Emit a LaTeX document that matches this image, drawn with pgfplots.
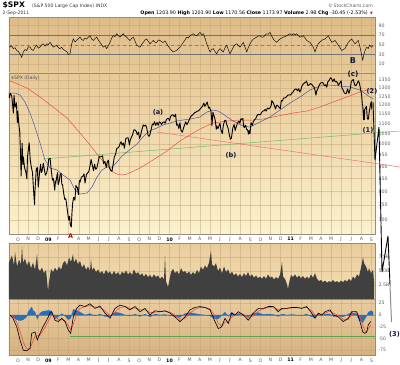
\documentclass[border=0pt]{standalone}
\usepackage{pgfplots}
\pgfplotsset{compat=1.18}
\usepackage{fontspec}
\setmainfont{DejaVu Sans}
\definecolor{gridc}{RGB}{196,166,122}
\definecolor{framec}{RGB}{150,140,125}
\definecolor{tickc}{RGB}{95,95,95}
\definecolor{maBlue}{RGB}{80,80,165}
\definecolor{maRed}{RGB}{240,75,65}
\definecolor{trGreen}{RGB}{110,190,100}
\definecolor{trPink}{RGB}{240,115,115}
\definecolor{volc}{RGB}{64,64,64}
\definecolor{histc}{RGB}{40,110,185}
\definecolor{lblc}{RGB}{15,25,55}
\definecolor{rsiT}{RGB}{222,188,138}
\definecolor{rsiB}{RGB}{231,201,152}
\definecolor{mainT}{RGB}{232,201,152}
\definecolor{mainB}{RGB}{251,242,206}
\definecolor{volT}{RGB}{233,204,156}
\definecolor{volB}{RGB}{243,224,180}
\definecolor{macdT}{RGB}{233,205,160}
\definecolor{macdB}{RGB}{214,177,128}
\tikzset{lbl/.style={font=\fontsize{6.6}{7}\selectfont\bfseries, text=lblc, inner sep=0pt}}
\pgfplotsset{
  panel/.style={scale only axis, width=366pt,
    axis line style={framec, line width=0.4pt},
    major tick length=0pt, tick style={draw=none},
    xmajorgrids, ymajorgrids,
    major grid style={gridc, line width=0.25pt, draw opacity=0.5},
    yticklabel pos=right,
    ticklabel style={font=\fontsize{4.7}{5}\selectfont, text=tickc},
    /pgf/number format/assume math mode=true},
  pxaxis/.style={xmin=9, xmax=375, xtick={18,28.1,...,372}},
  ovl/.style={scale only axis, width=366pt, height=161pt, at={(9pt,-73pt)}, anchor=north west, hide axis, clip=false},
  monthlabels/.style={xticklabels={O,N,D,\textcolor{black}{\textbf{09}},F,M,A,M,J,J,A,S,O,N,D,\textcolor{black}{\textbf{10}},F,M,A,M,J,J,A,S,O,N,D,\textcolor{black}{\textbf{11}},F,M,A,M,J,J,A,S}},
  monthlabelsA/.style={xticklabels={O,N,D,\textcolor{black}{\textbf{09}},F,{},A,M,J,J,A,S,O,N,D,\textcolor{black}{\textbf{10}},F,M,A,M,J,J,A,S,O,N,D,\textcolor{black}{\textbf{11}},F,M,A,M,J,J,A,S}}
}
\begin{document}
\begin{tikzpicture}
\path[use as bounding box] (0pt,0pt) rectangle (400pt,-365pt);
% header
\node[anchor=base west, inner sep=0pt, font=\fontsize{7.6}{8}\selectfont\bfseries] at (2.5pt,-7.6pt) {\$SPX};
\node[anchor=base west, inner sep=0pt, font=\fontsize{4.6}{5}\selectfont, text=black!80] at (32pt,-7.4pt) {(S\&P 500 Large Cap Index) INDX};
\node[anchor=base east, inner sep=0pt, font=\fontsize{4.6}{5}\selectfont, text=black!65] at (373pt,-7.4pt) {\textcopyright\,StockCharts.com};
\node[anchor=base west, inner sep=0pt, font=\fontsize{4.6}{5}\selectfont, text=black!80] at (2.5pt,-14.6pt) {2-Sep-2011};
\node[anchor=base east, inner sep=0pt, font=\fontsize{4.8}{5}\selectfont] at (368pt,-14.6pt) {\textbf{Open} 1203.90 \textbf{High} 1203.90 \textbf{Low} 1170.56 \textbf{Close} 1173.97 \textbf{Volume} 2.9B \textbf{Chg} -30.45 (-2.53\%)};
\node[anchor=base west, inner sep=0pt, font=\fontsize{3.5}{4}\selectfont, text=red!85!black] at (370pt,-14.4pt) {▼};

% RSI panel
\begin{axis}[panel, pxaxis, at={(9pt,-17pt)}, anchor=north west, height=56pt,
  ymin=-9, ymax=108, ytick={10,30,50,70,90}, yticklabels={10,30,50,70,90}, xticklabels={},
  axis background/.style={top color=rsiT, bottom color=rsiB}]
\addplot[black!55, line width=0.5pt] coordinates {(9,70)(375,70)};
\addplot[black!55, line width=0.5pt] coordinates {(9,30)(375,30)};
\addplot[black!50, dashed, line width=0.4pt] coordinates {(9,50)(375,50)};
\addplot[black, line width=0.45pt] coordinates {(9,46)(10,45)(11.7,48)(13.3,42)(15,44)(16.7,38)(18.3,36)(20,31)(21.7,24)(23.3,35)(25,40)(26.7,38)(28.3,46)(30,45)(31.7,40)(33.3,38)(35,45)(36.7,49)(38.3,43)(40,45)(41.7,50)(43.3,52)(45,47)(46.7,52)(48.3,50)(50,55)(51.7,50)(53.3,45)(55,47)(56.7,49)(58.3,44)(60,42)(61.7,45)(63.3,40)(65,38)(66.7,36)(68.3,30)(70,31)(71.7,52)(73.3,62)(75,56)(76.7,59)(78.3,63)(80,66)(81.7,61)(83.3,59)(85,64)(86.7,62)(88.3,66)(90,69)(91.7,62)(93.3,59)(95,63)(96.7,66)(98.3,60)(100,55)(101.7,50)(103.3,45)(105,48)(106.7,42)(108.3,48)(110,55)(111.7,64)(113.3,69)(115,67)(116.7,73)(118.3,69)(120,66)(121.7,70)(123.3,73)(125,68)(126.7,66)(128.3,62)(130,59)(131.7,63)(133.3,66)(135,58)(136.7,49)(138.3,47)(140,45)(141.7,51)(143.3,55)(145,60)(146.7,62)(148.3,57)(150,52)(151.7,56)(153.3,59)(155,55)(156.7,55)(158.3,60)(160,59)(161.7,56)(163.3,55)(165,58)(166.7,52)(168.3,47)(170,42)(171.7,38)(173.3,35)(175,37)(176.7,38)(178.3,42)(180,45)(181.7,50)(183.3,55)(185,60)(186.7,66)(188.3,64)(190,69)(191.7,71)(193.3,73)(195,70)(196.7,69)(198.3,72)(200,76)(201.7,71)(203.3,73)(205,64)(206.7,52)(208.3,44)(210,35)(211.7,40)(213.3,42)(215,36)(216.7,31)(218.3,38)(220,42)(221.7,38)(223.3,35)(225,44)(226.7,49)(228.3,40)(230,31)(231.7,38)(233.3,45)(235,50)(236.7,52)(238.3,48)(240,45)(241.7,50)(243.3,55)(245,45)(246.7,35)(248.3,44)(250,52)(251.7,58)(253.3,62)(255,64)(256.7,66)(258.3,68)(260,69)(261.7,66)(263.3,66)(265,70)(266.7,73)(268.3,72)(270,76)(271.7,68)(273.3,62)(275,58)(276.7,55)(278.3,59)(280,62)(281.7,64)(283.3,66)(285,67)(286.7,69)(288.3,71)(290,73)(291.7,70)(293.3,73)(295,71)(296.7,73)(298.3,69)(300,66)(301.7,67)(303.3,69)(305,64)(306.7,59)(308.3,57)(310,55)(311.7,50)(313.3,45)(315,35)(316.7,45)(318.3,52)(320,56)(321.7,59)(323.3,61)(325,62)(326.7,66)(328.3,69)(330,62)(331.7,55)(333.3,57)(335,59)(336.7,54)(338.3,49)(340,44)(341.7,38)(343.3,40)(345,42)(346.7,49)(348.3,55)(350,59)(351.7,62)(353.3,57)(355,52)(356.7,56)(358.3,59)(360,45)(361.7,28)(362.7,18)(363.5,26)(365,38)(366.7,45)(368.3,42)(369.3,49)(370.5,47)(371.7,45)(373,49)};
\end{axis}

% main panel background
\begin{axis}[panel, at={(9pt,-73pt)}, anchor=north west, height=161pt,
  xmin=0.1, xmax=36.35, xtick={1,...,36}, monthlabelsA,
  ymode=log, ymin=655, ymax=1395,
  ytick={700,750,800,850,900,950,1000,1050,1100,1150,1200,1250,1300,1350},
  yticklabels={700,750,800,850,900,950,1000,1050,1100,1150,1200,1250,1300,1350},
  axis background/.style={top color=mainT, bottom color=mainB}]
\addplot[draw=none] coordinates {(1,1000)};
\end{axis}
\node[anchor=base west, inner sep=0pt, font=\fontsize{4.6}{5}\selectfont, text=black!70] at (11pt,-79pt) {\$SPX (Daily)};

% moving averages and trend lines (pixel-grid axis)
\begin{axis}[ovl, xmin=9, xmax=375, ymin=73, ymax=234, y dir=reverse]
\addplot[trGreen, line width=0.5pt] coordinates {(43,159)(400,131)};
\addplot[trPink, line width=0.5pt] coordinates {(157,132)(400,167)};
\addplot[maRed, line width=0.5pt] coordinates {(10,81)(13,82)(27,88)(40,97)(53,107)(67,118)(80,133)(90,145)(100,158)(107,165)(113,172)(117,174)(122,175)(127,174)(140,168)(153,160)(167,151)(180,141)(193,133)(200,129)(213,123)(227,121)(240,120)(253,120)(263,119)(273,117)(293,113)(307,111)(320,107)(333,102)(347,97)(360,92)(367,90)(373,89)};
\addplot[maBlue, line width=0.5pt] coordinates {(10,93)(15,93)(20,95)(25,102)(30,113)(35,127)(40,143)(45,160)(50,168)(57,170)(63,175)(70,180)(75,190)(80,194)(87,193)(92,187)(97,177)(102,170)(107,167)(112,167)(117,162)(122,156)(127,152)(132,148)(137,144)(142,138)(147,133)(152,130)(157,128)(163,125)(170,123)(177,121)(183,120)(190,119)(200,117)(207,112)(213,110)(218,111)(223,114)(233,121)(243,126)(250,127)(260,122)(270,117)(280,110)(290,103)(300,97)(310,90)(320,86)(330,85)(340,86)(350,87)(360,90)(367,95)(373,99)};
\end{axis}

% price
\begin{axis}[scale only axis, width=366pt, height=161pt, at={(9pt,-73pt)}, anchor=north west, hide axis,
  xmin=0.1, xmax=36.35, ymode=log, ymin=655, ymax=1395]
\addplot[black, line width=0.9pt, line join=round] coordinates {
(0.03,1277)(0.13,1242)(0.23,1268)(0.37,1252)(0.47,1193)(0.53,1156)(0.60,1255)(0.70,1188)(0.83,1213)(0.93,1106)(0.97,1166)
(1.07,1099)(1.17,1056)(1.27,910)(1.30,860)(1.40,1003)(1.47,908)(1.53,940)(1.63,896)(1.77,876)(1.87,848)(1.93,940)
(2.00,968)(2.10,1005)(2.20,930)(2.30,899)(2.43,873)(2.53,806)(2.63,752)(2.67,800)(2.80,888)(2.90,896)
(3.00,816)(3.13,876)(3.23,909)(3.30,873)(3.37,879)(3.50,913)(3.60,887)(3.70,863)(3.83,872)(3.97,903)
(4.03,931)(4.17,935)(4.27,890)(4.40,843)(4.50,850)(4.63,805)(4.70,840)(4.73,831)(4.90,874)(4.97,826)
(5.07,838)(5.17,868)(5.27,870)(5.33,827)(5.40,827)(5.53,789)(5.63,770)(5.73,773)(5.87,735)
(6.00,700)(6.10,712)(6.17,683)(6.27,677)(6.33,720)(6.40,756)(6.50,778)(6.63,768)(6.73,823)(6.80,816)(6.87,815)(6.97,788)
(7.07,842)(7.13,835)(7.27,856)(7.40,858)(7.53,869)(7.63,832)(7.77,866)(7.90,873)
(8.00,877)(8.13,903)(8.23,929)(8.33,909)(8.47,882)(8.57,908)(8.70,887)(8.80,893)(8.93,919)
(9.03,943)(9.13,940)(9.27,942)(9.37,946)(9.47,911)(9.60,921)(9.73,895)(9.83,918)(9.93,927)
(10.03,896)(10.20,881)(10.30,879)(10.40,905)(10.53,940)(10.67,954)(10.77,979)(10.90,982)
(11.00,987)(11.13,1005)(11.20,1010)(11.30,994)(11.43,1004)(11.53,980)(11.67,1026)(11.77,1028)(11.90,1029)
(12.03,995)(12.10,1016)(12.23,1033)(12.33,1042)(12.47,1068)(12.57,1068)(12.70,1061)(12.80,1044)(12.93,1057)
(13.03,1025)(13.13,1040)(13.27,1071)(13.40,1093)(13.50,1087)(13.63,1092)(13.73,1080)(13.87,1042)(13.97,1036)
(14.07,1046)(14.17,1069)(14.30,1098)(14.40,1093)(14.50,1110)(14.63,1091)(14.77,1106)(14.87,1091)
(15.00,1109)(15.10,1106)(15.20,1095)(15.33,1106)(15.47,1109)(15.57,1102)(15.67,1118)(15.77,1126)(15.90,1127)
(16.00,1115)(16.10,1137)(16.23,1145)(16.33,1147)(16.47,1136)(16.60,1150)(16.70,1092)(16.80,1097)(16.93,1074)
(17.03,1104)(17.13,1066)(17.27,1056)(17.37,1075)(17.50,1094)(17.60,1109)(17.73,1094)(17.83,1105)(17.97,1123)
(18.13,1139)(18.27,1145)(18.37,1150)(18.50,1159)(18.60,1160)(18.73,1166)(18.83,1167)(18.97,1173)
(19.03,1179)(19.17,1187)(19.27,1194)(19.40,1211)(19.50,1192)(19.63,1206)(19.73,1217)(19.87,1183)(19.97,1187)
(20.10,1166)(20.17,1128)(20.20,1090)(20.30,1160)(20.43,1136)(20.53,1116)(20.63,1071)(20.67,1088)(20.80,1074)(20.90,1089)
(21.00,1102)(21.10,1065)(21.23,1050)(21.33,1092)(21.47,1116)(21.57,1117)(21.67,1095)(21.80,1076)(21.93,1041)
(22.03,1022)(22.13,1028)(22.27,1078)(22.40,1095)(22.50,1065)(22.60,1083)(22.73,1102)(22.87,1113)(22.97,1102)
(23.07,1125)(23.17,1122)(23.27,1127)(23.33,1089)(23.40,1079)(23.53,1092)(23.63,1071)(23.73,1067)(23.83,1047)(23.87,1065)(23.97,1049)
(24.07,1105)(24.20,1091)(24.30,1110)(24.43,1121)(24.53,1125)(24.63,1139)(24.77,1149)(24.87,1147)
(25.00,1147)(25.13,1160)(25.23,1166)(25.37,1169)(25.47,1176)(25.57,1166)(25.70,1183)(25.83,1178)(25.93,1183)
(26.07,1197)(26.13,1225)(26.27,1213)(26.37,1199)(26.50,1178)(26.60,1199)(26.70,1198)(26.83,1189)(26.97,1180)
(27.07,1225)(27.17,1223)(27.30,1240)(27.43,1241)(27.53,1244)(27.67,1254)(27.73,1257)(27.87,1259)
(28.00,1258)(28.13,1270)(28.20,1272)(28.33,1286)(28.43,1293)(28.53,1295)(28.67,1283)(28.80,1296)(28.90,1276)
(29.00,1286)(29.10,1310)(29.23,1324)(29.33,1329)(29.47,1336)(29.57,1343)(29.70,1315)(29.86,1320)(29.96,1328)
(30.10,1321)(30.23,1310)(30.33,1304)(30.43,1281)(30.50,1257)(30.57,1279)(30.70,1298)(30.80,1314)(30.93,1328)
(31.00,1332)(31.17,1334)(31.23,1328)(31.37,1314)(31.47,1320)(31.57,1305)(31.67,1337)(31.80,1347)(31.93,1364)
(32.03,1361)(32.17,1340)(32.30,1357)(32.40,1338)(32.53,1340)(32.63,1333)(32.73,1317)(32.87,1331)
(33.00,1345)(33.07,1300)(33.23,1284)(33.30,1271)(33.47,1265)(33.53,1271)(33.63,1295)(33.77,1268)(33.90,1296)
(34.00,1340)(34.20,1353)(34.23,1344)(34.37,1314)(34.47,1316)(34.57,1327)(34.70,1345)(34.80,1331)(34.93,1292)
(35.03,1254)(35.10,1200)(35.13,1199)(35.23,1120)(35.27,1172)(35.30,1121)(35.33,1173)(35.37,1179)(35.50,1193)(35.57,1140)(35.60,1124)(35.70,1123)(35.77,1162)(35.83,1177)(35.93,1210)
(36.00,1219)(36.03,1174)};
\end{axis}

% volume panel
\begin{axis}[panel, pxaxis, at={(9pt,-243pt)}, anchor=north west, height=56pt,
  ymin=0, ymax=10, ytick={2.5,5,7.5}, yticklabels={2.5B,5.0B,7.5B}, xticklabels={},
  axis background/.style={top color=volT, bottom color=volB}]
\addplot[fill=volc, draw=none] coordinates {(9,6.5)(12,7.8)(14,6.0)(15,8.4)(17,5.8)(19,7.0)(21,6.2)(22,9.5)(23,6.5)(25,7.2)(27,6.0)(29,6.8)(31,5.5)(33,6.5)(35,5.2)(37,8.0)(38,5.5)(40,5.0)(42,5.6)(44,4.6)(46,5.2)(47,3.5)(48,1.4)(49,3.0)(51,5.4)(53,4.8)(55,5.6)(57,5.0)(59,5.8)(61,5.2)(63,6.4)(65,6.8)(67,6.0)(69,7.4)(71,6.6)(73,8.0)(74,6.5)(76,7.2)(78,6.2)(80,6.8)(82,5.6)(84,6.2)(86,5.2)(88,5.8)(90,5.0)(91,7.1)(92,5.2)(94,5.6)(96,4.8)(98,5.3)(100,4.6)(102,5.0)(104,4.4)(106,5.2)(108,4.6)(110,4.9)(112,4.3)(114,5.0)(116,4.4)(118,4.8)(120,4.2)(122,4.9)(124,4.5)(126,5.1)(128,4.4)(130,4.8)(132,4.3)(134,5.3)(136,4.5)(138,4.8)(140,4.2)(142,4.6)(144,4.0)(146,4.5)(148,3.9)(150,4.3)(152,3.8)(154,4.4)(156,3.9)(158,4.2)(160,3.6)(162,4.0)(164,3.5)(165,7.7)(166,3.2)(168,2.1)(169,3.0)(171,4.8)(173,5.4)(175,4.6)(177,5.0)(179,4.4)(181,5.5)(183,4.8)(185,5.0)(187,4.5)(189,4.9)(191,4.3)(193,4.8)(195,4.4)(197,5.2)(199,4.6)(201,5.8)(203,5.2)(205,6.0)(207,5.5)(209,6.5)(211,8.6)(212,6.2)(214,5.8)(216,6.4)(218,5.0)(220,5.6)(222,4.6)(224,5.8)(226,4.8)(228,5.3)(230,4.4)(232,4.9)(234,4.2)(236,4.6)(238,4.0)(240,4.5)(242,3.9)(244,4.6)(246,4.1)(248,4.8)(250,4.0)(252,4.4)(254,3.8)(256,4.2)(258,3.7)(260,4.0)(262,3.6)(264,4.1)(266,3.6)(268,4.4)(270,3.8)(272,4.0)(274,3.5)(276,3.9)(278,3.6)(280,4.3)(282,6.6)(283,4.0)(285,3.6)(287,2.6)(288,1.8)(289,2.8)(291,4.3)(293,3.9)(295,4.4)(297,3.8)(299,4.2)(301,3.7)(303,4.1)(305,3.6)(307,4.0)(309,3.6)(311,4.4)(313,3.8)(315,4.6)(317,3.6)(319,3.2)(321,3.4)(323,3.0)(325,3.3)(327,2.9)(329,3.2)(331,3.0)(333,3.4)(335,3.0)(337,3.2)(339,2.9)(341,3.3)(343,3.0)(345,3.4)(347,3.1)(349,3.6)(351,3.2)(353,4.0)(355,3.6)(357,4.4)(359,4.0)(361,5.6)(362,6.5)(363,7.5)(364,6.4)(366,5.8)(368,4.8)(369,5.5)(371,4.6)(373,5.2)(374,3.2)} \closedcycle;
\end{axis}

% oscillator panel
\begin{axis}[panel, pxaxis, at={(9pt,-299pt)}, anchor=north west, height=56pt,
  ymin=-85, ymax=34, ytick={-75,-50,-25,0,25}, yticklabels={-75,-50,-25,0,25}, monthlabels,
  axis background/.style={top color=macdT, bottom color=macdB}]
\addplot[black!45, line width=0.4pt] coordinates {(9,0)(375,0)};
\addplot[trGreen!85!black, line width=0.6pt] coordinates {(70,-45)(375,-45)};
\addplot[fill=histc, draw=histc, line width=0.2pt] coordinates {(10,0)(13,-4)(16.7,-10)(20,-12)(23.3,-10)(26.7,-4)(28,6)(30,12)(31.7,17)(33,10)(35,6)(37.3,-9)(40,4)(43,8)(46.7,9)(50,10)(51.7,7)(55,-8)(58.3,-4)(61.7,3)(65,-2)(68.3,-10)(70.7,-7)(73.3,12)(76.7,10)(80,6)(85,0)(90,3)(95,-2)(100,2)(105,-3)(110,-4)(115,6)(120,4)(125,0)(130,-2)(135,2)(140,-3)(145,2)(150,-4)(155,2)(160,0)(165,1)(170,-1)(175,-3)(180,-5)(185,3)(190,5)(195,3)(200,1)(205,0)(210,-2)(215,-8)(218.3,-8)(221.7,-1)(225,6)(228.3,-3)(231.7,6)(235,0)(238.3,2)(243.3,-1)(248.3,-4)(253.3,4)(258.3,5)(263.3,1)(268.3,2)(273.3,1)(278.3,-3)(281.7,2)(286.7,0)(291.7,1)(296.7,0)(301.7,-1)(306.7,2)(311.7,-4)(315,-5)(318.3,3)(321.7,-1)(325,2)(330,2)(333.3,-3)(338.3,-2)(343.3,-4)(348.3,2)(351.7,5)(356.7,2)(358,-6)(360,-12)(362.7,-16)(365,-8)(366.7,-2)(368.3,6)(370.7,9)(373,7)} \closedcycle;
\addplot[maRed, line width=0.6pt] coordinates {(10,0)(13,-3)(16.7,-15)(20,-35)(23.3,-58)(26.7,-72)(30,-72)(31.7,-62)(35,-45)(37.3,-44)(40,-43)(43,-33)(46.7,-20)(50,-6)(51.7,0)(55,-3)(58.3,-10)(61.7,-10)(65,-12)(68.3,-22)(70.7,-32)(73.3,-20)(76.7,2)(80,14)(85,18)(90,20)(95,17)(100,16)(105,9)(110,-2)(115,6)(120,16)(125,18)(130,14)(135,15)(140,11)(145,11)(150,5)(155,6)(160,7)(165,8)(170,6)(175,0)(180,-9)(185,-8)(190,4)(195,12)(200,16)(205,16)(210,13)(215,-2)(218.3,-18)(221.7,-24)(225,-15)(228.3,-14)(231.7,-5)(235,0)(238.3,4)(243.3,2)(248.3,-6)(253.3,-2)(258.3,8)(263.3,13)(268.3,16)(273.3,17)(278.3,11)(281.7,12)(286.7,14)(291.7,15)(296.7,16)(301.7,15)(306.7,16)(311.7,9)(315,0)(318.3,0)(321.7,1)(325,4)(330,8)(333.3,4)(338.3,-1)(343.3,-9)(348.3,-9)(351.7,0)(356.7,5)(360,-4)(362.7,-22)(365,-34)(366.7,-37)(368.3,-30)(370.7,-22)};
\addplot[black, line width=0.6pt] coordinates {(10,0)(13,-7)(16.7,-25)(20,-53)(23.3,-75)(26.7,-76)(30,-71)(31.7,-39)(35,-36)(37.3,-53)(40,-39)(43,-25)(46.7,-11)(50,4)(51.7,7)(55,-11)(58.3,-14)(61.7,-7)(65,-14)(68.3,-32)(70.7,-39)(73.3,-4)(76.7,14)(80,21)(85,18)(90,24)(95,14)(100,19)(105,4)(110,-7)(115,14)(120,21)(125,18)(130,11)(135,18)(140,7)(145,14)(150,0)(155,9)(160,7)(165,9)(170,4)(175,-4)(180,-14)(185,-4)(190,11)(195,16)(200,18)(205,16)(210,11)(215,-14)(218.3,-29)(221.7,-25)(225,-7)(228.3,-18)(231.7,4)(235,0)(238.3,7)(243.3,0)(248.3,-11)(253.3,4)(258.3,14)(263.3,14)(268.3,18)(273.3,18)(278.3,7)(281.7,14)(286.7,14)(291.7,16)(296.7,16)(301.7,14)(306.7,18)(311.7,4)(315,-7)(318.3,4)(321.7,0)(325,7)(330,11)(333.3,0)(338.3,-4)(343.3,-14)(348.3,-7)(351.7,7)(356.7,7)(360,-14)(362.7,-36)(365,-39)(366.7,-36)(368.3,-21)(370.7,-14)};
\end{axis}

% annotations (pixel-grid axis over the main panel)
\begin{axis}[ovl, xmin=9, xmax=375, ymin=73, ymax=234, y dir=reverse]
\addplot[black, line width=0.9pt, line join=round] coordinates {(373,102)(375,160)(379,127)(382,272)(388,236)(390,285)};
\addplot[black!45, line width=1pt] coordinates {(390,285)(391.5,322)};
\node[lbl] at (axis cs:158,112) {(a)};
\node[lbl] at (axis cs:231,155) {(b)};
\node[lbl, font=\fontsize{7.2}{7}\selectfont\bfseries] at (axis cs:353,74) {(c)};
\node[lbl, font=\fontsize{8}{8}\selectfont\bfseries] at (axis cs:353,61) {B};
\node[lbl] at (axis cs:372,91) {(2)};
\node[lbl] at (axis cs:368,130) {(1)};
\node[lbl] at (axis cs:394.5,334) {(3)};
\node[lbl, font=\fontsize{6.4}{7}\selectfont\bfseries, text=red!75!black] at (axis cs:70.5,236.5) {A};
\end{axis}
\end{tikzpicture}
\end{document}
